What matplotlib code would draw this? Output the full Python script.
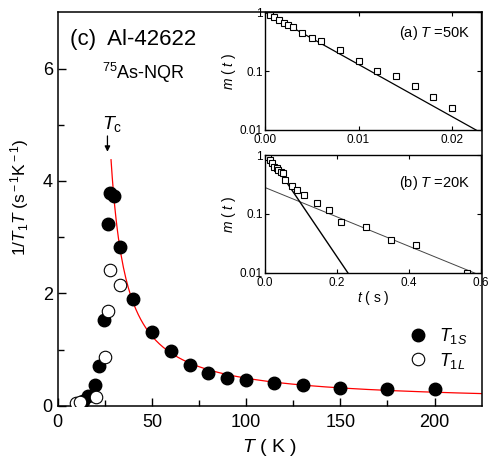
import numpy as np
import matplotlib.pyplot as plt

plt.rcParams['font.family'] = ['Liberation Sans', 'DejaVu Sans']
plt.rcParams['mathtext.fontset'] = 'custom'
plt.rcParams['mathtext.rm'] = 'Liberation Sans'
plt.rcParams['mathtext.it'] = 'Liberation Sans:italic'
plt.rcParams['mathtext.bf'] = 'Liberation Sans:bold'

# 1/T1T of the short component
T_s = [13.6, 16.2, 20.0, 21.8, 24.8, 26.6, 27.8, 30.1, 33.0, 40.0, 50.0, 60.0,
       70.0, 80.0, 90.0, 100.0, 115.0, 130.0, 150.0, 175.0, 200.0]
r_s = [0.08, 0.18, 0.37, 0.70, 1.53, 3.23, 3.79, 3.74, 2.83, 1.90, 1.31, 0.97,
       0.72, 0.58, 0.50, 0.455, 0.41, 0.37, 0.32, 0.29, 0.29]
# 1/T1T of the long component
T_l = [9.7, 11.9, 20.2, 25.2, 26.9, 28.0, 33.0]
r_l = [0.05, 0.06, 0.15, 0.86, 1.69, 2.42, 2.15]

# Curie-Weiss type fit above Tc: a + C/(T - theta)
fit_a, fit_C, fit_theta = 0.04, 36.0, 20.0
T_fit = np.linspace(28.3, 225, 300)
r_fit = fit_a + fit_C / (T_fit - fit_theta)

# recovery curve at 50 K
t_a = [0.0005, 0.001, 0.0015, 0.002, 0.0025, 0.003, 0.004, 0.005, 0.006,
       0.008, 0.010, 0.012, 0.014, 0.016, 0.018, 0.020]
m_a = [0.90, 0.84, 0.74, 0.65, 0.61, 0.57, 0.44, 0.36, 0.32,
       0.23, 0.15, 0.10, 0.083, 0.055, 0.036, 0.024]
tau_a = 0.0049

# recovery curve at 20 K
t_b = [0.005, 0.009, 0.014, 0.018, 0.025, 0.032, 0.037, 0.043, 0.049, 0.055,
       0.074, 0.09, 0.108, 0.143, 0.177, 0.212, 0.28, 0.35, 0.42, 0.56]
m_b = [0.97, 0.92, 0.82, 0.72, 0.63, 0.59, 0.56, 0.52, 0.49, 0.38,
       0.30, 0.25, 0.21, 0.155, 0.116, 0.074, 0.059, 0.036, 0.030, 0.0098]
A_short, tau_short = 1.2, 0.048
A_long, tau_long = 0.28, 0.174

fig = plt.figure(figsize=(4.89, 4.59), dpi=100)
ax = fig.add_axes([0.118, 0.1161, 0.867, 0.857])

ax.plot(T_fit, r_fit, color='red', lw=0.9, zorder=1)
ax.plot(T_s, r_s, 'o', ms=9, color='black', label=r'$T_{1S}$', zorder=2)
ax.plot(T_l, r_l, 'o', ms=9, mfc='white', mec='black', mew=0.8,
        label=r'$T_{1L}$', zorder=3)

ax.set_xlim(0, 225)
ax.set_ylim(0, 7)
ax.set_xticks([0, 50, 100, 150, 200])
ax.set_xticks([25, 75, 125, 175], minor=True)
ax.set_yticks([0, 2, 4, 6])
ax.set_yticks([1, 3, 5], minor=True)
ax.tick_params(which='both', direction='in', labelsize=13, width=1)
ax.tick_params(axis='x', pad=6)
ax.tick_params(which='major', length=6)
ax.tick_params(which='minor', length=4)
for s in ax.spines.values():
    s.set_linewidth(1.1)

ax.set_xlabel(r'$T$ ( K )', fontsize=14, labelpad=4)
ax.set_ylabel(r'1/$T_{\rm 1}T$ (s$^{\rm -1}$K$^{\rm -1}$)', fontsize=12.5)
ax.yaxis.set_label_coords(-0.062, 0.53)

ax.text(0.03, 0.93, '(c)  Al-42622', transform=ax.transAxes, fontsize=16,
        va='center')
ax.text(0.105, 0.845, r'$^{75}$As-NQR', transform=ax.transAxes, fontsize=13,
        va='center')
ax.text(29, 5.02, r'$T_{\rm c}$', fontsize=14, ha='center', va='center')
ax.annotate('', xy=(26.4, 4.47), xytext=(26.4, 4.85),
            arrowprops=dict(arrowstyle='-|>', color='black', lw=0.9,
                            mutation_scale=8))

ax.legend(loc='upper left', bbox_to_anchor=(0.785, 0.225), frameon=False,
          fontsize=13, handletextpad=0.2, labelspacing=0.25, borderpad=0)

# insets
ins_a = fig.add_axes([0.542, 0.7168, 0.4417, 0.2564])
ins_b = fig.add_axes([0.542, 0.4059, 0.4417, 0.2564])

ta = np.linspace(0, 0.0238, 100)
ins_a.plot(ta, np.exp(-ta / tau_a), color='black', lw=0.9)
ins_a.plot(t_a, m_a, 's', ms=5, mfc='white', mec='black', mew=0.8)
ins_a.set_xlim(0, 0.0231)
ins_a.set_xticks([0.0, 0.01, 0.02])
ins_a.set_xticklabels(['0.00', '0.01', '0.02'])
ins_a.text(0.95, 0.82, r'(a) $T$ =50K', transform=ins_a.transAxes,
           fontsize=10.5, ha='right', va='center')

tb = np.linspace(0, 0.6, 200)
ins_b.plot(tb, A_long * np.exp(-tb / tau_long), color='#444444', lw=0.7)
ins_b.plot(tb, A_short * np.exp(-tb / tau_short), color='black', lw=1.0)
ins_b.plot(t_b, m_b, 's', ms=5, mfc='white', mec='black', mew=0.8)
ins_b.set_xlim(0, 0.6)
ins_b.set_xticks([0.0, 0.2, 0.4, 0.6])
ins_b.set_xticklabels(['0.0', '0.2', '0.4', '0.6'])
ins_b.set_xlabel(r'$t$ ( s )', fontsize=10, labelpad=0)
ins_b.text(0.95, 0.76, r'(b) $T$ =20K', transform=ins_b.transAxes,
           fontsize=10.5, ha='right', va='center')

for ins in (ins_a, ins_b):
    ins.set_yscale('log')
    ins.set_ylim(0.01, 1)
    ins.set_yticks([0.01, 0.1, 1])
    ins.set_yticklabels(['0.01', '0.1', '1'])
    ins.minorticks_off()
    ins.set_ylabel(r'$m$ ( $t$ )', fontsize=10, labelpad=1)
    ins.tick_params(which='both', direction='in', top=True, right=True,
                    labelsize=8.5, length=3, width=0.8, pad=1.5)
    ins.tick_params(axis='x', pad=3)
    for s in ins.spines.values():
        s.set_linewidth(1.0)

fig.savefig('out.png', dpi=100)
